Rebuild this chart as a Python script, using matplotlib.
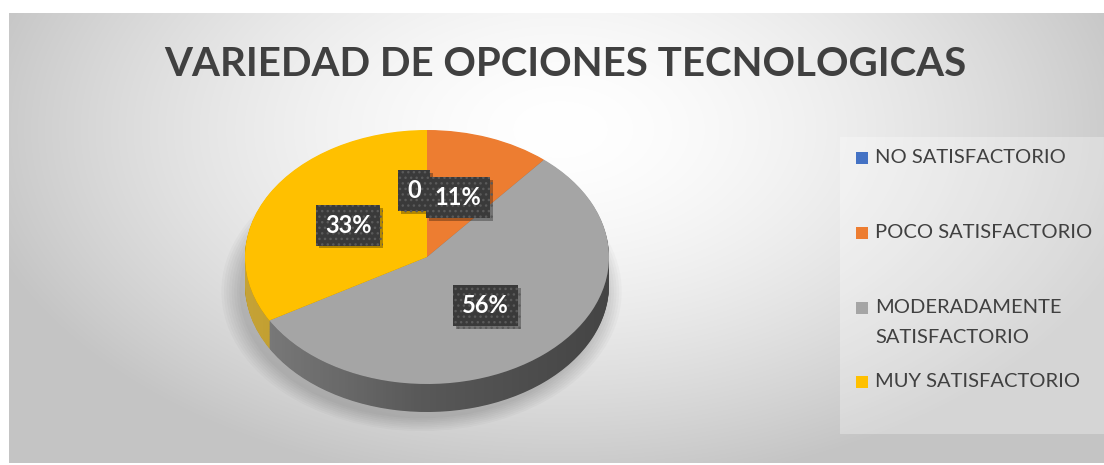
import matplotlib.pyplot as plt
import matplotlib.patheffects as pe
import numpy as np
from matplotlib.patches import Rectangle, Ellipse, Polygon

# Datos del gráfico
categorias = ["NO SATISFACTORIO", "POCO SATISFACTORIO", "MODERADAMENTE\nSATISFACTORIO", "MUY SATISFACTORIO"]
valores = [0, 1, 5, 3]
colores = ["#4472C4", "#ED7D31", "#A5A5A5", "#FFC000"]
colores_lado = ["#2f4f8a", "#a8561f", "#585858", "#b58900"]
titulo = "VARIEDAD DE OPCIONES TECNOLOGICAS"

W, H = 1104, 465
fig = plt.figure(figsize=(W / 100, H / 100), dpi=100, facecolor="white")

# Fondo con degradado radial (en coordenadas de pixel)
bg = fig.add_axes([0, 0, 1, 1])
bg.set_xlim(0, W)
bg.set_ylim(H, 0)
bg.axis("off")
yy, xx = np.mgrid[14:463, 9:W]
d = np.sqrt(((xx - 560) / 600.0) ** 2 + ((yy - 130) / 360.0) ** 2)
v = 1 - 0.23 * np.clip(d, 0, 1) ** 1.6
bg.imshow(np.dstack([v, v, v]), extent=[9, W, 463, 14], aspect="auto", zorder=0)

# Titulo
bg.text(565, 65, titulo, ha="center", va="center", fontsize=29, fontweight="bold",
        color="#404040", family="Lato", zorder=3)

# Caja de leyenda
bg.add_patch(Rectangle((840, 137), W - 840, 297, facecolor="white", alpha=0.3,
                       edgecolor="none", zorder=1))
filas_y = [158, 233, 308, 382]
for cat, col, fy in zip(categorias, colores, filas_y):
    bg.add_patch(Rectangle((856, fy - 6), 12, 12, facecolor=col, edgecolor="none", zorder=2))
    bg.text(875, fy - 9.5, cat, ha="left", va="top", fontsize=14.5, color="#404040",
            family="Lato", linespacing=1.95, zorder=3)

# Pastel 3D (elipse aplastada)
cx, cy, rx, ry, prof = 427, 257, 182, 127, 28
ax = fig.add_axes([240 / W, (H - 422) / H, 374 / W, 297 / H])
ax.patch.set_alpha(0)
xl = 187 / rx
ylim = (-(422 - cy) / ry, (cy - 125) / ry)
dz = prof / ry

# sombra suave
for a in np.linspace(1.1, 1.0, 8):
    ax.add_patch(Ellipse((-0.03, -dz - 0.05), 2 * a, 2 * a, facecolor="#000000",
                         alpha=0.025, edgecolor="none", zorder=0, clip_on=False))

for k in np.linspace(dz, 0, 40)[:-1]:
    ax.pie(valores, colors=colores_lado, startangle=90, counterclock=False,
           center=(0, -k), wedgeprops=dict(linewidth=0), frame=True)

# degradado horizontal del costado
t = np.linspace(np.pi, 2 * np.pi, 200)
lado = np.concatenate([np.c_[np.cos(t), np.sin(t)],
                       np.c_[np.cos(t[::-1]), np.sin(t[::-1]) - dz]])
clip = Polygon(lado, closed=True, transform=ax.transData, facecolor="none", edgecolor="none")
ax.add_patch(clip)
g = np.linspace(0, 1, 256)
grad = np.zeros((1, 256, 4))
grad[0, :, :3] = np.where(g[:, None] < 0.5, 1.0, 0.0)
grad[0, :, 3] = np.abs(g - 0.5) * 0.45
im = ax.imshow(grad, extent=[-1, 1, -1 - dz, 0], aspect="auto", zorder=5,
               interpolation="bilinear")
im.set_clip_path(clip)


def fmt(p):
    return "0" if p < 0.5 else f"{p:.0f}%"


wedges, textos, autotextos = ax.pie(
    valores, colors=colores, startangle=90, counterclock=False, autopct=fmt,
    pctdistance=0.5, wedgeprops=dict(linewidth=0, zorder=6), frame=True,
    textprops=dict(color="white", fontsize=17, fontweight="bold", family="Lato"))

for tx in autotextos:
    tx.set_bbox(dict(boxstyle="square,pad=0.38", facecolor="#3a3a3a", edgecolor="#5a5a5a",
                     linewidth=0, hatch="..."))
    tx.get_bbox_patch().set_path_effects(
        [pe.SimplePatchShadow(offset=(2, -2), shadow_rgbFace="black", alpha=0.3), pe.Normal()])
    tx.set_zorder(10)
x0, y0 = autotextos[0].get_position()
autotextos[0].set_position((x0 - 0.07, y0 + 0.02))

ax.set_aspect("auto")
ax.set_xlim(-xl, xl)
ax.set_ylim(*ylim)
ax.axis("off")

fig.savefig("out.png", dpi=100, facecolor="white")
